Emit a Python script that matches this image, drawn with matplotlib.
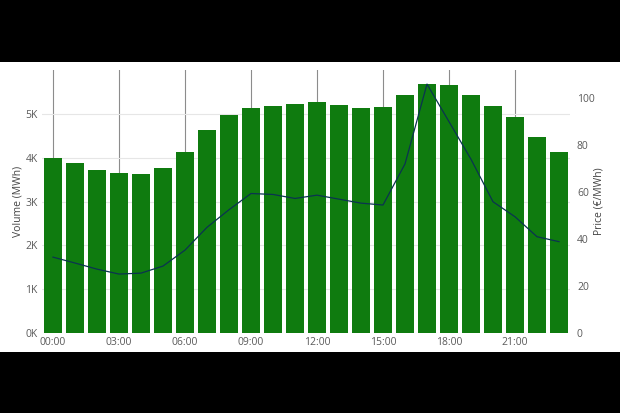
"""Hourly volume (bars) + price (line), dual axis."""

import matplotlib
matplotlib.use("Agg")
import matplotlib.pyplot as plt
from matplotlib.patches import Rectangle
from matplotlib.ticker import FuncFormatter

hours = list(range(24))
volume_mwh = [3990, 3880, 3720, 3640, 3630, 3760, 4130, 4640,
              4980, 5130, 5180, 5220, 5270, 5210, 5130, 5150,
              5430, 5680, 5650, 5440, 5190, 4920, 4480, 4140]
price_eur = [32.3, 29.8, 27.2, 25.1, 25.5, 28.5, 35.3, 45.0,
             52.5, 59.4, 59.0, 57.3, 58.7, 57.0, 55.3, 54.5,
             72.0, 106.0, 90.0, 74.0, 55.9, 49.5, 41.0, 38.9]
xtick_hours = [0, 3, 6, 9, 12, 15, 18, 21]
vol_ticks = [0, 1000, 2000, 3000, 4000, 5000]
price_ticks = [0, 20, 40, 60, 80, 100]

W, H = 620, 413
plt.rcParams["font.family"] = ["Open Sans", "DejaVu Sans"]
fig = plt.figure(figsize=(W / 100, H / 100), dpi=100, facecolor="black")

# white card between black bands
card = Rectangle((0, (H - 352) / H), 1, (352 - 62) / H,
                 transform=fig.transFigure, facecolor="white",
                 edgecolor="none", zorder=-10)
fig.patches.append(card)

ax = fig.add_axes([42 / W, (H - 333) / H, 528 / W, 263 / H])
ax.set_facecolor("none")
ax.bar(hours, volume_mwh, width=0.79, color="#0f7b0f", zorder=2)
ax.set_xlim(-0.5, 23.5)
ax.set_ylim(0, 6000)
ax.set_yticks(vol_ticks)
ax.yaxis.set_major_formatter(FuncFormatter(lambda v, p: f"{int(v / 1000)}K"))
ax.set_xticks(xtick_hours)
ax.set_xticklabels([f"{h:02d}:00" for h in xtick_hours])
ax.grid(axis="y", color="#e6e6e6", lw=0.8, zorder=0)
ax.grid(axis="x", color="#8c8c8c", lw=0.8, zorder=0)
ax.set_axisbelow(True)
ax.tick_params(length=0, labelsize=7.5, colors="#5a5a5a", pad=3)
ax.set_ylabel("Volume (MWh)", fontsize=7.5, color="#444444", labelpad=1.5)
for s in ax.spines.values():
    s.set_visible(False)

ax2 = ax.twinx()
ax2.plot(hours, price_eur, color="#0b3350", lw=0.9, zorder=3)
ax2.set_ylim(0, 112)
ax2.set_yticks(price_ticks)
ax2.tick_params(length=0, labelsize=7.5, colors="#5a5a5a", pad=5)
ax2.set_ylabel("Price (€/MWh)", fontsize=7.5, color="#444444", labelpad=-1)
for s in ax2.spines.values():
    s.set_visible(False)

fig.savefig("out.png", dpi=100, facecolor="black")
